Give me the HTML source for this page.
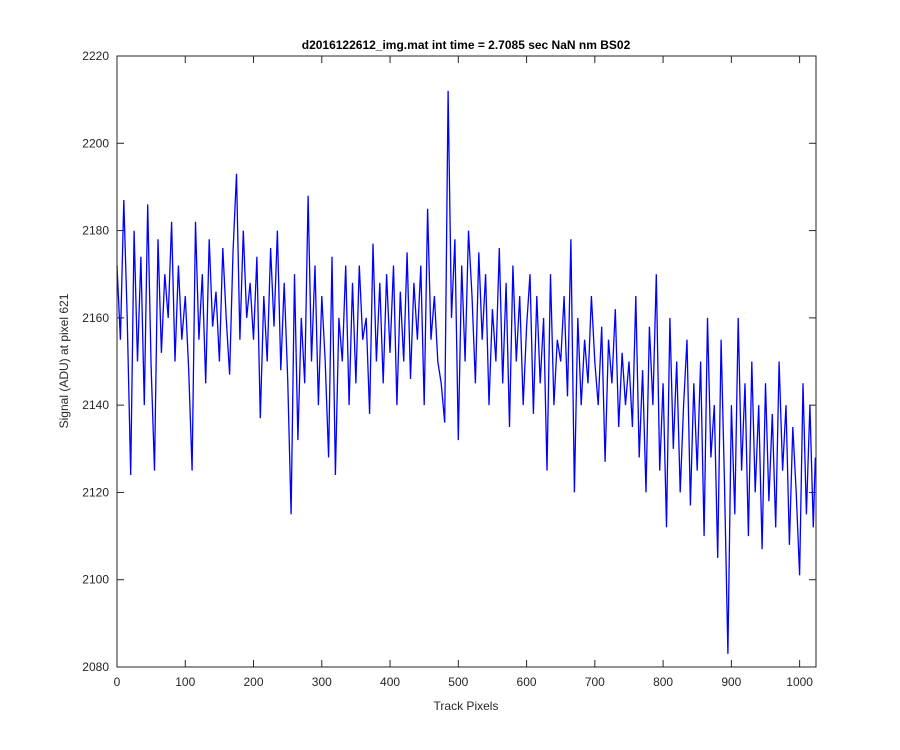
<!DOCTYPE html>
<html><head><meta charset="utf-8"><style>
html,body{margin:0;padding:0;background:#fff;}
svg{display:block;font-family:"Liberation Sans",Arial,sans-serif;}
</style></head><body>
<svg id="chart" width="900" height="750">
<rect x="0" y="0" width="900" height="750" fill="#fff"/>
<text x="466" y="49" text-anchor="middle" font-size="12" font-weight="bold" fill="#000">d2016122612_img.mat int time = 2.7085 sec  NaN nm BS02</text>
<text x="466" y="710" text-anchor="middle" font-size="12" fill="#262626">Track Pixels</text>
<text transform="translate(68,361) rotate(-90)" text-anchor="middle" font-size="12" fill="#262626">Signal (ADU) at pixel 621</text>
<g id="xticks"></g>
<g id="yticks"></g>
<polyline id="line" fill="none" stroke="#0000ff" stroke-width="1.3"/>
<rect x="117" y="56" width="699" height="611" fill="none" stroke="#262626" stroke-width="1"/>
</svg>
<script>
const xTicks=[0,100,200,300,400,500,600,700,800,900,1000];
const yTicks=[2080,2100,2120,2140,2160,2180,2200,2220];
const xValues=[];
const signal=[2172,2155,2187,2160,2124,2180,2150,2174,2140,2186,
2149,2125,2178,2152,2170,2160,2182,2150,2172,2155,
2165,2148,2125,2182,2155,2170,2145,2178,2158,2166,
2150,2176,2160,2147,2175,2193,2155,2180,2160,2168,
2155,2174,2137,2165,2150,2176,2158,2180,2148,2168,
2146,2115,2170,2132,2160,2145,2188,2150,2172,2140,
2165,2150,2128,2174,2124,2160,2150,2172,2140,2168,
2145,2172,2155,2160,2138,2177,2150,2168,2145,2170,
2152,2172,2140,2166,2150,2175,2146,2168,2155,2172,
2140,2185,2155,2165,2150,2145,2136,2212,2160,2178,
2132,2172,2150,2180,2165,2145,2175,2155,2170,2140,
2162,2150,2176,2145,2168,2135,2172,2150,2165,2140,
2158,2170,2138,2165,2145,2160,2125,2170,2140,2155,
2150,2165,2142,2178,2120,2160,2140,2155,2145,2165,
2150,2140,2158,2127,2155,2145,2162,2135,2152,2140,
2150,2135,2165,2128,2148,2120,2158,2140,2170,2125,
2145,2112,2160,2130,2150,2120,2140,2155,2117,2145,
2125,2150,2110,2160,2128,2140,2105,2155,2122,2083,
2140,2115,2160,2125,2145,2110,2150,2120,2140,2107,
2145,2118,2138,2112,2150,2125,2140,2108,2135,2120,
2101,2145,2115,2140,2112,2128];
for(let i=0;i<signal.length;i++) xValues.push(i<205?i*5:1023);
const X0=117,X1=816,Y0=667,Y1=56;
const xs=v=>X0+(v-0)/(1024-0)*(X1-X0);
const ys=v=>Y0-(v-2080)/(2220-2080)*(Y0-Y1);
const NS="http://www.w3.org/2000/svg";
const gx=document.getElementById('xticks'),gy=document.getElementById('yticks');
xTicks.forEach(t=>{
 const l=document.createElementNS(NS,'line');
 
 
 l.setAttribute('x1',xs(t));l.setAttribute('x2',xs(t));l.setAttribute('y1',Y0);l.setAttribute('y2',Y0-7);l.setAttribute('stroke','#262626');gx.appendChild(l);
 const l2=document.createElementNS(NS,'line');
 
 
 l2.setAttribute('x1',xs(t));l2.setAttribute('x2',xs(t));l2.setAttribute('y1',Y1);l2.setAttribute('y2',Y1+7);l2.setAttribute('stroke','#262626');gx.appendChild(l2);
 const tx=document.createElementNS(NS,'text');
 
 
 tx.setAttribute('x',xs(t));tx.setAttribute('y',Y0+19);tx.setAttribute('text-anchor','middle');tx.setAttribute('font-size','12');tx.setAttribute('fill','#262626');tx.textContent=t;gx.appendChild(tx);
});
yTicks.forEach(t=>{
 const l=document.createElementNS(NS,'line');
 
 
 l.setAttribute('x1',X0);l.setAttribute('x2',X0+7);l.setAttribute('y1',ys(t));l.setAttribute('y2',ys(t));l.setAttribute('stroke','#262626');gy.appendChild(l);
 const l2=document.createElementNS(NS,'line');
 
 
 l2.setAttribute('x1',X1);l2.setAttribute('x2',X1-7);l2.setAttribute('y1',ys(t));l2.setAttribute('y2',ys(t));l2.setAttribute('stroke','#262626');gy.appendChild(l2);
 const tx=document.createElementNS(NS,'text');
 
 
 tx.setAttribute('x',X0-8);tx.setAttribute('y',ys(t)+4);tx.setAttribute('text-anchor','end');tx.setAttribute('font-size','12');tx.setAttribute('fill','#262626');tx.textContent=t;gy.appendChild(tx);
});
document.getElementById('line').setAttribute('points',signal.map((v,i)=>xs(xValues[i]).toFixed(1)+','+ys(v).toFixed(1)).join(' '));
</script>
</body></html>
